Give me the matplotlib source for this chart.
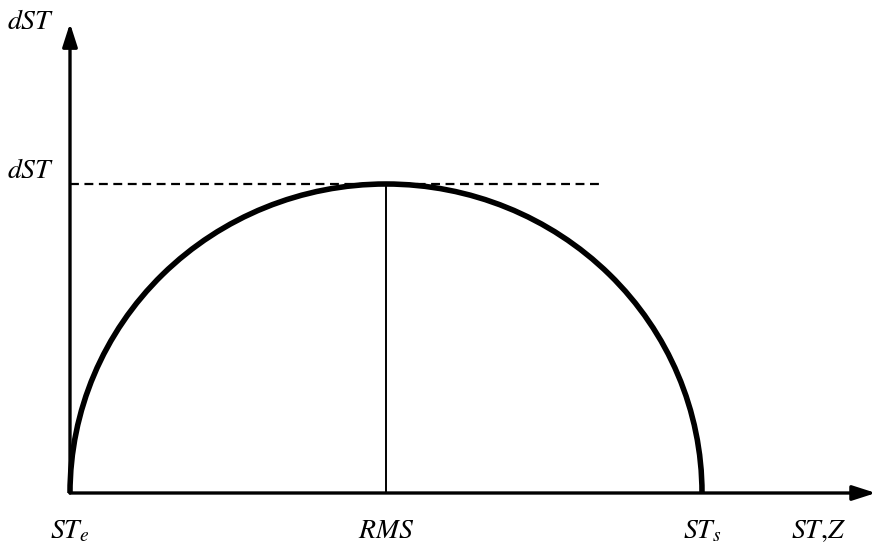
import matplotlib
matplotlib.use("Agg")
import matplotlib.pyplot as plt
from matplotlib.patches import Arc

plt.rcParams['mathtext.fontset'] = 'stix'
plt.rcParams['font.family'] = 'STIXGeneral'

# curve key points (normalised units)
st_e = 0.0      # start of the arc
st_s = 1.0      # end of the arc
rms = 0.5       # position of the maximum
dst_max = 1.0   # maximum height

dash_end = 0.843
x_axis_end = 1.275
y_axis_end = 1.52

x_labels = [r'$ST_e$', r'$RMS$', r'$ST_s$', r'$ST{,}Z$']
x_label_pos = [0.0, 0.5, 1.0, 1.185]

fig = plt.figure(figsize=(8.83, 5.46), dpi=100)
ax = fig.add_axes([0, 0, 1, 1])
ax.set_xlim(-70 / 632, 813 / 632)
ax.set_ylim(-53 / 309, 493 / 309)
ax.axis('off')

# axes with arrow heads
arrow = dict(arrowstyle='-|>,head_length=1.4,head_width=0.45', color='black',
             lw=2.4, shrinkA=0, shrinkB=0)
ax.annotate('', xy=(x_axis_end, 0), xytext=(st_e, 0), arrowprops=arrow)
ax.annotate('', xy=(st_e, y_axis_end), xytext=(st_e, 0), arrowprops=arrow)

# the arc
ax.add_patch(Arc(((st_e + st_s) / 2, 0), st_s - st_e, 2 * dst_max,
                 theta1=0, theta2=180, color='black', lw=4))

# maximum markers
ax.plot([st_e, dash_end], [dst_max, dst_max], color='black', lw=1.6,
        linestyle=(0, (4, 2.5)))
ax.plot([rms, rms], [0, dst_max], color='black', lw=1.4)

# labels
for lab, xp in zip(x_labels, x_label_pos):
    ax.text(xp, -0.125, lab, fontsize=20, ha='center', va='center')
ax.text(-0.063, 1.524, r'$dST$', fontsize=20, ha='center', va='center')
ax.text(-0.062, 1.04, r'$dST$', fontsize=20, ha='center', va='center')

fig.savefig('out.png', dpi=100)
